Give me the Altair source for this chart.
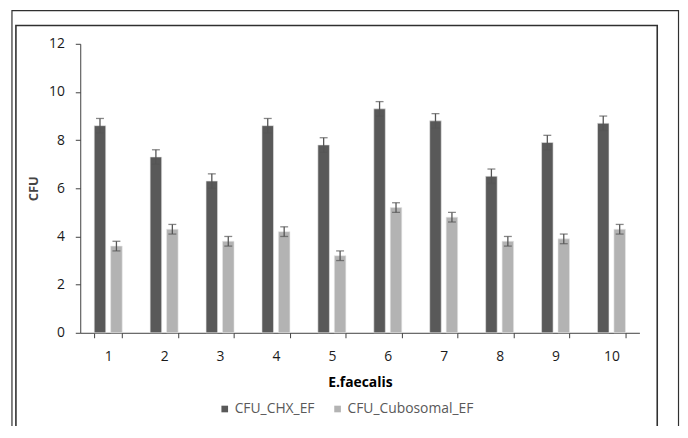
import altair as alt
import pandas as pd

categories = ["1", "2", "3", "4", "5", "6", "7", "8", "9", "10"]
chx_values = [8.6, 7.3, 6.3, 8.6, 7.8, 9.3, 8.8, 6.5, 7.9, 8.7]
chx_errors = [0.3, 0.3, 0.3, 0.3, 0.3, 0.3, 0.3, 0.3, 0.3, 0.3]
cubo_values = [3.6, 4.3, 3.8, 4.2, 3.2, 5.2, 4.8, 3.8, 3.9, 4.3]
cubo_errors = [0.2, 0.2, 0.2, 0.2, 0.2, 0.2, 0.2, 0.2, 0.2, 0.2]
series_names = ["CFU_CHX_EF", "CFU_Cubosomal_EF"]
series_colors = ["#595959", "#b3b3b3"]
y_ticks = [0, 2, 4, 6, 8, 10, 12]

rows = []
for i, c in enumerate(categories):
    rows.append({"cat": c, "series": series_names[0], "value": chx_values[i],
                 "lo": chx_values[i] - chx_errors[i], "hi": chx_values[i] + chx_errors[i]})
    rows.append({"cat": c, "series": series_names[1], "value": cubo_values[i],
                 "lo": cubo_values[i] - cubo_errors[i], "hi": cubo_values[i] + cubo_errors[i]})
df = pd.DataFrame(rows)

FONT = "Open Sans"

x_enc = alt.X("cat:N", sort=categories, title="E.faecalis",
              scale=alt.Scale(paddingInner=0.5, paddingOuter=0.25),
              axis=alt.Axis(labelAngle=0, tickBand="extent", tickSize=5,
                            labelFontSize=14, labelColor="#1a1a1a", labelFont=FONT,
                            labelPadding=12, domainColor="#404040", tickColor="#404040",
                            titleFont=FONT, titleFontSize=14, titleFontWeight="bold",
                            titleColor="#000000", titlePadding=12))
xo_enc = alt.XOffset("series:N", sort=series_names,
                     scale=alt.Scale(paddingInner=0.3, paddingOuter=0))

base = alt.Chart(df)

bars = base.mark_bar(stroke="#e6e6e6", strokeWidth=0.6).encode(
    x=x_enc,
    xOffset=xo_enc,
    y=alt.Y("value:Q", title="CFU",
            scale=alt.Scale(domain=[0, 12], nice=False),
            axis=alt.Axis(values=y_ticks, grid=False, tickSize=5, labelFontSize=14,
                          labelColor="#1a1a1a", labelFont=FONT, labelPadding=11,
                          domainColor="#404040", tickColor="#404040",
                          titleFont=FONT, titleFontSize=13, titleFontWeight="bold",
                          titleColor="#444444", titlePadding=8)),
    color=alt.Color("series:N", sort=series_names,
                    scale=alt.Scale(domain=series_names, range=series_colors),
                    legend=alt.Legend(title=None, orient="none", direction="horizontal",
                                      legendX=139, legendY=362, symbolType="square",
                                      symbolSize=45, symbolStrokeWidth=0,
                                      labelFont=FONT, labelFontSize=14,
                                      labelColor="#595959", columnPadding=16,
                                      labelOffset=3)),
)

err = base.mark_rule(color="#555555", strokeWidth=1.3).encode(
    x=alt.X("cat:N", sort=categories),
    xOffset=xo_enc,
    y="lo:Q",
    y2="hi:Q",
)
cap_hi = base.mark_tick(color="#555555", size=8, thickness=1.3).encode(
    x=alt.X("cat:N", sort=categories),
    xOffset=xo_enc,
    y="hi:Q",
)
cap_lo = base.mark_tick(color="#555555", size=8, thickness=1.3).encode(
    x=alt.X("cat:N", sort=categories),
    xOffset=xo_enc,
    y="lo:Q",
)

frame_df = pd.DataFrame({"f": [0]})
inner_frame = alt.Chart(frame_df).mark_rect(fill=None, stroke="#303030", strokeWidth=1.6).encode(
    x=alt.value(-65), x2=alt.value(583), y=alt.value(-18.5), y2=alt.value(390.5)
)
outer_frame = alt.Chart(frame_df).mark_rect(fill=None, stroke="#303030", strokeWidth=1.2).encode(
    x=alt.value(-69), x2=alt.value(604.5), y=alt.value(-33.5), y2=alt.value(420)
)

chart = alt.layer(outer_frame, inner_frame, bars, err, cap_hi, cap_lo).properties(
    width=565, height=292,
    autosize=alt.AutoSizeParams(type="none"),
    padding={"left": 73, "top": 34, "right": 41, "bottom": 92},
    background="white",
).configure_view(stroke=None)

chart.save("out.html", embed_options={"renderer": "svg", "actions": False})
